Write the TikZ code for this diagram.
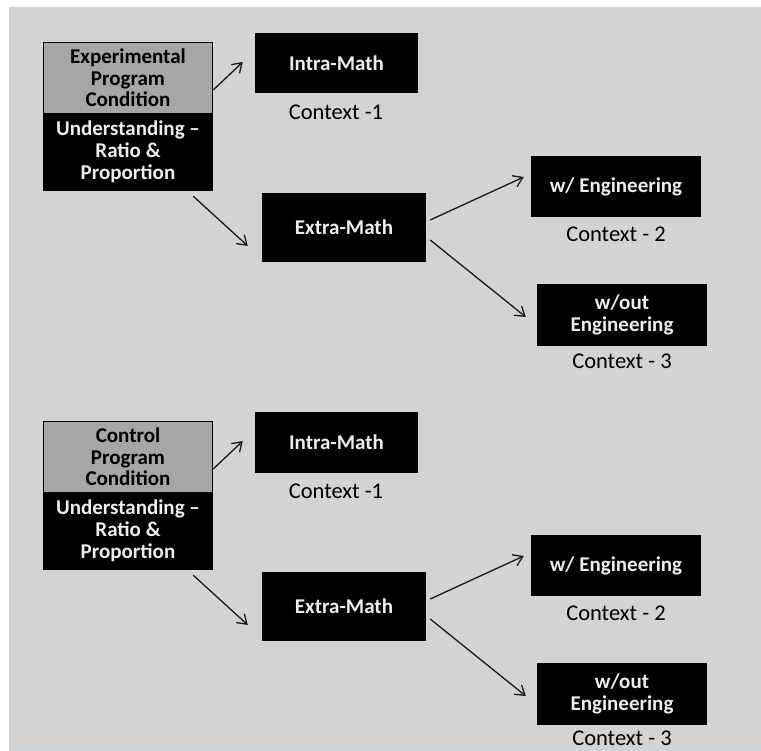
\documentclass[tikz,border=0pt]{standalone}
\usepackage{fontspec}
\setmainfont{Carlito}
\usetikzlibrary{arrows.meta,calc}
\definecolor{bggray}{HTML}{D3D3D3}
\definecolor{topgray}{HTML}{A6A6A6}
\definecolor{offwhite}{HTML}{EEEEEE}
\definecolor{stripgray}{HTML}{CFD4D8}
\tikzset{
  blackbox/.style={fill=black,text=offwhite,font=\bfseries\fontsize{21}{22}\selectfont,align=center,inner sep=0pt},
  graybox/.style={fill=topgray,text=black,font=\bfseries\fontsize{21}{21.5}\selectfont,align=center,inner sep=0pt},
  ctxlabel/.style={font=\fontsize{22.5}{24}\selectfont,text=black,inner sep=0pt},
  arr/.style={draw=black!90,line width=1.3pt,-{Straight Barb[length=9pt,width=12pt,line width=1.3pt]}},
}
\begin{document}
\begin{tikzpicture}[x=1pt,y=-1pt]
\useasboundingbox (0,0) rectangle (761,751);
\fill[white] (0,0) rectangle (761,751);
\fill[bggray] (9,7) rectangle (761,751);
\fill[stripgray] (9,746) rectangle (761,751);
% ---------------- top group ----------------
\begin{scope}
\node[graybox,minimum width=168pt,minimum height=70pt] (exptop) at (128,78) {Experimental\\Program\\Condition};
\node[blackbox,minimum width=168pt,minimum height=77pt] (expbot) at (128,151.5) {Understanding --\\Ratio \&\\Proportion};
\draw[black,line width=1.2pt] (exptop.north west) rectangle (expbot.south east);
\node[blackbox,minimum width=163pt,minimum height=60pt] (intra1) at (336.5,63.5) {Intra-Math};
\node[ctxlabel] (c11) at (336,112) {Context -1};
\node[blackbox,minimum width=164pt,minimum height=69pt] (extra1) at (344,227.5) {Extra-Math};
\node[blackbox,minimum width=170pt,minimum height=61pt] (we1) at (616,186.5) {w/ Engineering};
\node[ctxlabel] (c12) at (616,234) {Context - 2};
\node[blackbox,minimum width=170pt,minimum height=62pt] (woe1) at (622,315) {w/out\\Engineering};
\node[ctxlabel] (c13) at (622,361) {Context - 3};
\draw[arr] ($(exptop.east)+(1,12)$) -- ($(intra1.west)+(-12,-1.5)$);
\draw[arr] ($(expbot.south east)+(-19,6)$) -- ($(extra1.west)+(-14,18.5)$);
\draw[arr] ($(extra1.east)+(4,-7.5)$) -- ($(we1.west)+(-7,-9.5)$);
\draw[arr] ($(extra1.east)+(4,12.5)$) -- ($(woe1.west)+(-11,2)$);
\end{scope}
% ---------------- bottom group ----------------
\begin{scope}[yshift=-379pt]
\node[graybox,minimum width=168pt,minimum height=70pt] (contop) at (128,78) {Control\\Program\\Condition};
\node[blackbox,minimum width=168pt,minimum height=77pt] (conbot) at (128,151.5) {Understanding --\\Ratio \&\\Proportion};
\draw[black,line width=1.2pt] (contop.north west) rectangle (conbot.south east);
\node[blackbox,minimum width=163pt,minimum height=60pt] (intra2) at (336.5,63.5) {Intra-Math};
\node[ctxlabel] (c21) at (336,112) {Context -1};
\node[blackbox,minimum width=164pt,minimum height=69pt] (extra2) at (344,227.5) {Extra-Math};
\node[blackbox,minimum width=170pt,minimum height=61pt] (we2) at (616,186.5) {w/ Engineering};
\node[ctxlabel] (c22) at (616,234) {Context - 2};
\node[blackbox,minimum width=170pt,minimum height=62pt] (woe2) at (622,315) {w/out\\Engineering};
\node[ctxlabel] (c23) at (622,359.5) {Context - 3};
\draw[arr] ($(contop.east)+(1,12)$) -- ($(intra2.west)+(-12,-1.5)$);
\draw[arr] ($(conbot.south east)+(-19,6)$) -- ($(extra2.west)+(-14,18.5)$);
\draw[arr] ($(extra2.east)+(4,-7.5)$) -- ($(we2.west)+(-7,-9.5)$);
\draw[arr] ($(extra2.east)+(4,12.5)$) -- ($(woe2.west)+(-11,2)$);
\end{scope}
\end{tikzpicture}
\end{document}
